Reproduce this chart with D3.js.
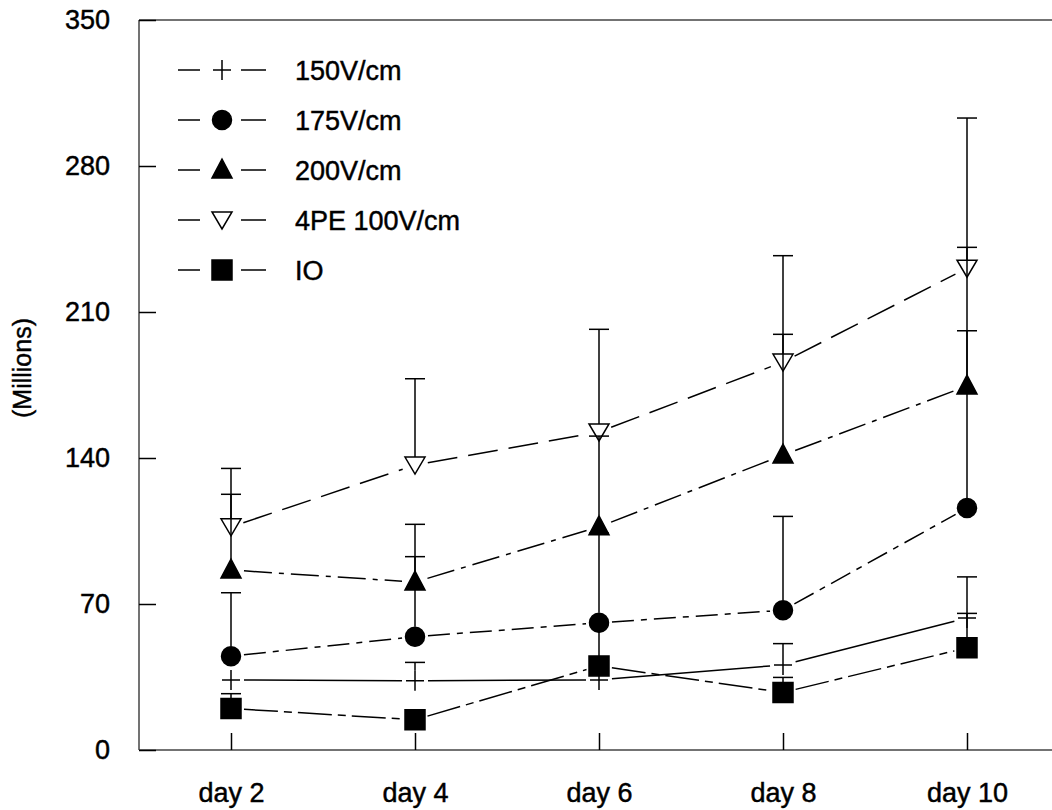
<!DOCTYPE html>
<html>
<head>
<meta charset="utf-8">
<script src="https://cdn.jsdelivr.net/npm/d3@7"></script>
<style>
  body { margin: 0; background: #fff; }
  text { font-family: Arial, "Liberation Sans", sans-serif; fill: #000; stroke: #000; stroke-width: 0.45px; }
</style>
</head>
<body>
<div id="chart"></div>
<script>
// Data
var days = ['day 2', 'day 4', 'day 6', 'day 8', 'day 10'];
var yTicks = [0, 70, 140, 210, 280, 350];
var seriesNames = ['150V/cm', '175V/cm', '200V/cm', '4PE 100V/cm', 'IO'];

var v150 = [33.6, 33.2, 33.6, 40.8, 63.3];
var up150 = [35, 42, 37, 51, 83];
var v175 = [45, 54.3, 61, 67, 116];
var up175 = [75.4, 92.7, 104, 112, 201];
var v200 = [86.3, 80.5, 107, 141.4, 174.5];
var up200 = [122.6, 108.2, 150.5, 199.3, 241];
var v4pe = [107, 136.6, 152.5, 186, 231];
var up4pe = [135, 178, 201.7, 237, 303];
var vIO = [19.9, 14.5, 40.3, 27.6, 49];
var upIO = [27, 14.5, 60, 34.8, 65.5];

// SVG area
var svgWidth = 1052;
var svgHeight = 810;
var plotLeft = 139, plotTop = 20, plotBottom = 750;

var svg = d3.select('#chart')
    .append('svg')
    .attr('width', svgWidth)
    .attr('height', svgHeight);

var x = d3.scalePoint()
    .domain(days)
    .range([plotLeft, 1059])
    .padding(0.5);

var y = d3.scaleLinear()
    .domain([0, 350])
    .range([plotBottom, plotTop]);

// marker shapes
function markerPath(kind) {
    if (kind === 'cross') return 'M-9,0H9M0,-10V10';
    if (kind === 'circle') return 'M-9.5,0A9.5,9.5 0 1,0 9.5,0A9.5,9.5 0 1,0 -9.5,0Z';
    if (kind === 'tri') return 'M0,-11L10,8L-10,8Z';
    if (kind === 'tridown') return 'M-10,-8L10,-8L0,9Z';
    return 'M-10,-10H10V10H-10Z';
}

var series = [
    { name: seriesNames[0], vals: v150, ups: up150, kind: 'cross', dash: null, half: 10 },
    { name: seriesNames[1], vals: v175, ups: up175, kind: 'circle', dash: '22,7,6,7', half: 10 },
    { name: seriesNames[2], vals: v200, ups: up200, kind: 'tri', dash: '28,7,5,7', half: 11 },
    { name: seriesNames[3], vals: v4pe, ups: up4pe, kind: 'tridown', dash: '30,11', half: 8 },
    { name: seriesNames[4], vals: vIO, ups: upIO, kind: 'square', dash: '34,6,8,6', half: 10 }
];

// frame
svg.append('line').attr('x1', plotLeft).attr('x2', svgWidth).attr('y1', plotTop).attr('y2', plotTop)
    .attr('stroke', '#444').attr('stroke-width', 1.5);
svg.append('line').attr('x1', plotLeft).attr('x2', svgWidth).attr('y1', plotBottom).attr('y2', plotBottom)
    .attr('stroke', '#444').attr('stroke-width', 1.5);
svg.append('line').attr('x1', plotLeft).attr('x2', plotLeft).attr('y1', plotTop).attr('y2', plotBottom)
    .attr('stroke', '#444').attr('stroke-width', 1.5);

// axes with inward ticks
var yAxis = svg.append('g')
    .attr('transform', `translate(${plotLeft},0)`)
    .call(d3.axisLeft(y).tickValues(yTicks).tickSize(-17).tickPadding(29));
var xAxis = svg.append('g')
    .attr('transform', `translate(0,${plotBottom})`)
    .call(d3.axisBottom(x).tickSize(-17).tickPadding(33));
[yAxis, xAxis].forEach(function(g) {
    g.select('.domain').remove();
    g.selectAll('.tick line').attr('stroke', '#000').attr('stroke-width', 1.5);
    g.selectAll('.tick text')
        .style('font-size', '27px')
        .style('font-family', 'Arial, "Liberation Sans", sans-serif')
        .attr('fill', '#000')
        .attr('stroke', '#000')
        .attr('stroke-width', 0.45);
});

svg.append('text')
    .attr('transform', 'translate(31,368) rotate(-90)')
    .attr('text-anchor', 'middle')
    .style('font-size', '25px')
    .text('(Millions)');

// connecting lines, shortened near the markers
var gap = 13;
series.forEach(function(s) {
    for (var i = 0; i < days.length - 1; i++) {
        var x1 = x(days[i]), y1 = y(s.vals[i]);
        var x2 = x(days[i + 1]), y2 = y(s.vals[i + 1]);
        var len = Math.hypot(x2 - x1, y2 - y1);
        var ux = (x2 - x1) / len, uy = (y2 - y1) / len;
        svg.append('line')
            .attr('x1', x1 + ux * gap).attr('y1', y1 + uy * gap)
            .attr('x2', x2 - ux * gap).attr('y2', y2 - uy * gap)
            .attr('stroke', '#000')
            .attr('stroke-width', 1.5)
            .attr('stroke-dasharray', s.dash);
    }
});

// upper error bars
series.forEach(function(s) {
    s.vals.forEach(function(v, i) {
        var up = s.ups[i];
        if (y(v) - y(up) <= s.half + 1) return;
        var cx = x(days[i]);
        svg.append('line')
            .attr('x1', cx).attr('x2', cx)
            .attr('y1', y(v) - s.half).attr('y2', y(up))
            .attr('stroke', '#000').attr('stroke-width', 1.5);
        svg.append('line')
            .attr('x1', cx - 10).attr('x2', cx + 10)
            .attr('y1', y(up)).attr('y2', y(up))
            .attr('stroke', '#000').attr('stroke-width', 1.5);
    });
});

// markers
series.forEach(function(s) {
    svg.selectAll(null)
        .data(s.vals)
        .enter()
        .append('path')
        .attr('transform', (d, i) => `translate(${x(days[i])},${y(d)})`)
        .attr('d', markerPath(s.kind))
        .attr('fill', s.kind === 'cross' || s.kind === 'tridown' ? 'none' : '#000')
        .attr('stroke', '#000')
        .attr('stroke-width', 1.5);
});

// legend
series.forEach(function(s, i) {
    var ly = 70 + i * 50;
    var g = svg.append('g');
    g.append('line').attr('x1', 178).attr('x2', 200).attr('y1', ly).attr('y2', ly)
        .attr('stroke', '#000').attr('stroke-width', 1.5);
    g.append('line').attr('x1', 241).attr('x2', 266).attr('y1', ly).attr('y2', ly)
        .attr('stroke', '#000').attr('stroke-width', 1.5);
    g.append('path')
        .attr('transform', `translate(222,${ly})`)
        .attr('d', markerPath(s.kind))
        .attr('fill', s.kind === 'cross' || s.kind === 'tridown' ? 'none' : '#000')
        .attr('stroke', '#000').attr('stroke-width', 1.5);
    g.append('text')
        .attr('x', 295)
        .attr('y', ly)
        .attr('dy', '0.36em')
        .style('font-size', '27px')
        .text(s.name);
});
</script>
</body>
</html>
